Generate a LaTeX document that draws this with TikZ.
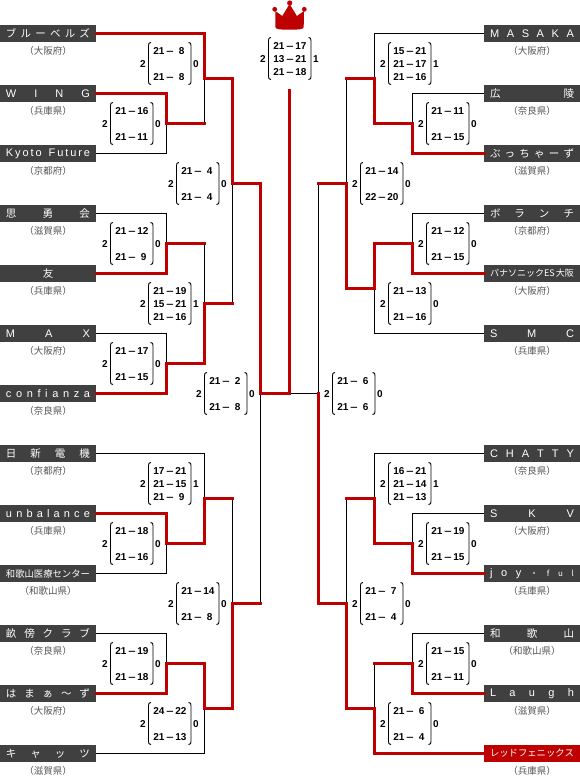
\documentclass[tikz,border=0pt]{standalone}
\usepackage{fontspec}
\setmainfont{Liberation Sans}
\newfontfamily\cjk{Noto Sans CJK JP}
\newlength\pxu \pxu=0.75pt
\definecolor{winred}{HTML}{BE0000}
\definecolor{boxgray}{HTML}{404040}
\definecolor{prefgray}{HTML}{555555}
\newcommand\fs[1]{\fontsize{#1\pxu}{#1\pxu}\selectfont}
\makeatletter
\newcommand\spreadtxt[1]{\hbox to 84\pxu{\@tfor\nxt:=#1\do{\nxt\hfill}\unskip}}
\makeatother
\newcommand\jp[1]{\cjk\fs{10.5}\spreadtxt{#1}}
\newcommand\la[1]{\fs{11}\spreadtxt{#1}}
\newcommand\dashx{\raisebox{0pt}{\scalebox{1.3}[1]{–}}}
% one row of a score: left number, dash, right number
\newcommand\scr[2]{\hbox to 34\pxu{\hbox to 11.5\pxu{#1\hss}\hbox to 10.5\pxu{\hss\dashx\hss}\setbox0\hbox{#2}\ifdim\wd0<8\pxu\kern3.5\pxu\fi\box0\hss}}
\tikzset{
  team/.style={fill=boxgray,text=white,minimum width=96\pxu,minimum height=17\pxu,inner sep=0pt,outer sep=0pt,anchor=center},
  champ/.style={team,fill=winred},
  pref/.style={text=prefgray,inner sep=0pt,font=\cjk\fs{9.5}},
  win/.style={draw=winred,line width=3\pxu,line cap=rect,line join=miter},
  lose/.style={draw=black,line width=1\pxu},
  paren/.style={draw=black,line width=0.9\pxu},
  num/.style={inner sep=0pt,anchor=base west,font=\bfseries\fs{10},text=black},
  numc/.style={inner sep=0pt,anchor=base,font=\bfseries\fs{10},text=black},
}
% name, x of left number, y centre, right number, rows
\newcommand\parens[3]{%
  \draw[paren] (#2+8,#3-21) .. controls (#2+6,#3-21) and (#2+5.5,#3-20) .. (#2+5.5,#3-18) -- (#2+5.5,#3+18) .. controls (#2+5.5,#3+20) and (#2+6,#3+21) .. (#2+8,#3+21);
  \draw[paren] (#2+45.5,#3-21) .. controls (#2+47.5,#3-21) and (#2+48,#3-20) .. (#2+48,#3-18) -- (#2+48,#3+18) .. controls (#2+48,#3+20) and (#2+47.5,#3+21) .. (#2+45.5,#3+21);
  \node[numc] (#1w) at (#2,#3+3.6) {2};
}
\newcommand\mtwo[6]{\parens{#1}{#2}{#3}
  \node[numc] (#1l) at (#2+53,#3+3.6) {#4};
  \node[num] (#1a) at (#2+10,#3-9.4) {#5};
  \node[num] (#1b) at (#2+10,#3+16.6) {#6};}
\newcommand\mthree[7]{\parens{#1}{#2}{#3}
  \node[numc] (#1l) at (#2+53,#3+3.6) {#4};
  \node[num] (#1a) at (#2+10,#3-9.4) {#5};
  \node[num] (#1b) at (#2+10,#3+3.6) {#6};
  \node[num] (#1c) at (#2+10,#3+16.6) {#7};}
\begin{document}
\begin{tikzpicture}[x=0.75pt,y=-0.75pt]
\useasboundingbox (0,0) rectangle (580,776);
% teams, left
\node[team] (l1) at (48,33.5) {\jp{ブルーベルズ}};
\node[team] (l2) at (48,93.5) {\la{WING}};
\node[team] (l3) at (48,153.5) {\fs{11}\spreadtxt{Kyoto{\ }Future}};
\node[team] (l4) at (48,213.5) {\jp{思勇会}};
\node[team] (l5) at (48,273.5) {\cjk\fs{10.5}友};
\node[team] (l6) at (48,333.5) {\la{MAX}};
\node[team] (l7) at (48,393.5) {\la{confianza}};
\node[team] (l8) at (48,453.5) {\jp{日新電機}};
\node[team] (l9) at (48,513.5) {\la{unbalance}};
\node[team] (l10) at (48,573.5) {\cjk\fs{9.33}\spreadtxt{和歌山医療センター}};
\node[team] (l11) at (48,633.5) {\jp{畝傍クラブ}};
\node[team] (l12) at (48,693.5) {\jp{はまぁ〜ず}};
\node[team] (l13) at (48,753.5) {\jp{キャッツ}};
% teams, right
\node[team] (r1) at (532,33.5) {\la{MASAKA}};
\node[team] (r2) at (532,93.5) {\jp{広陵}};
\node[team] (r3) at (532,153.5) {\jp{ぶっちゃーず}};
\node[team] (r4) at (532,213.5) {\jp{ボランチ}};
\node[team] (r5) at (532,273.5) {\cjk\fs{9}\hbox to 84\pxu{\hss パナソニックES\hfill 大阪\hss}};
\node[team] (r6) at (532,333.5) {\la{SMC}};
\node[team] (r7) at (532,453.5) {\la{CHATTY}};
\node[team] (r8) at (532,513.5) {\la{SKV}};
\node[team] (r9) at (532,573.5) {\fs{11}\spreadtxt{joy{\cjk\fs{8}・}ful}};
\node[team] (r10) at (532,633.5) {\jp{和歌山}};
\node[team] (r11) at (532,693.5) {\la{Laugh}};
\node[champ] (r12) at (532,753.5) {\cjk\fs{9.33}\spreadtxt{レッドフェニックス}};
% prefectures
\node[pref] (pl1) at (48,50.7) {（大阪府）};
\node[pref] (pl2) at (48,110.7) {（兵庫県）};
\node[pref] (pl3) at (48,170.7) {（京都府）};
\node[pref] (pl4) at (48,230.7) {（滋賀県）};
\node[pref] (pl5) at (48,290.7) {（兵庫県）};
\node[pref] (pl6) at (48,350.7) {（大阪府）};
\node[pref] (pl7) at (48,410.7) {（奈良県）};
\node[pref] (pl8) at (48,470.7) {（京都府）};
\node[pref] (pl9) at (48,530.7) {（兵庫県）};
\node[pref] (pl10) at (48,590.7) {（和歌山県）};
\node[pref] (pl11) at (48,650.7) {（奈良県）};
\node[pref] (pl12) at (48,710.7) {（大阪府）};
\node[pref] (pl13) at (48,770.7) {（滋賀県）};
\node[pref] (pr1) at (532,50.7) {（大阪府）};
\node[pref] (pr2) at (532,110.7) {（奈良県）};
\node[pref] (pr3) at (532,170.7) {（滋賀県）};
\node[pref] (pr4) at (532,230.7) {（京都府）};
\node[pref] (pr5) at (532,290.7) {（大阪府）};
\node[pref] (pr6) at (532,350.7) {（兵庫県）};
\node[pref] (pr7) at (532,470.7) {（奈良県）};
\node[pref] (pr8) at (532,530.7) {（大阪府）};
\node[pref] (pr9) at (532,590.7) {（兵庫県）};
\node[pref] (pr10) at (532,650.7) {（和歌山県）};
\node[pref] (pr11) at (532,710.7) {（滋賀県）};
\node[pref] (pr12) at (532,770.7) {（兵庫県）};
% junctions, left
\coordinate (a1) at (166.5,123.5); \coordinate (a1e) at (204.5,123.5);
\coordinate (a2) at (204.5,78.5);  \coordinate (a2e) at (232.5,78.5);
\coordinate (a3) at (232.5,183.5); \coordinate (a3e) at (260.5,183.5);
\coordinate (a4) at (166.5,243.5); \coordinate (a4e) at (204.5,243.5);
\coordinate (a5) at (166.5,363.5); \coordinate (a5e) at (204.5,363.5);
\coordinate (a6) at (204.5,303.5); \coordinate (a6e) at (232.5,303.5);
\coordinate (fl) at (260.5,393.5); \coordinate (fc) at (289.5,393.5);
\coordinate (top) at (289.5,90);
\coordinate (b1) at (166.5,543.5); \coordinate (b1e) at (204.5,543.5);
\coordinate (b2) at (204.5,498.5); \coordinate (b2e) at (232.5,498.5);
\coordinate (b3) at (166.5,663.5); \coordinate (b3e) at (204.5,663.5);
\coordinate (b4) at (204.5,708.5); \coordinate (b4e) at (232.5,708.5);
\coordinate (b5) at (232.5,603.5); \coordinate (b5e) at (260.5,603.5);
% junctions, right
\coordinate (c1) at (412.5,123.5); \coordinate (c1e) at (374.5,123.5);
\coordinate (c2) at (374.5,78.5);  \coordinate (c2e) at (346.5,78.5);
\coordinate (c3) at (412.5,243.5); \coordinate (c3e) at (374.5,243.5);
\coordinate (c4) at (374.5,288.5); \coordinate (c4e) at (346.5,288.5);
\coordinate (c5) at (346.5,183.5); \coordinate (c5e) at (318.5,183.5);
\coordinate (fr) at (318.5,393.5);
\coordinate (d1) at (412.5,543.5); \coordinate (d1e) at (374.5,543.5);
\coordinate (d2) at (374.5,498.5); \coordinate (d2e) at (346.5,498.5);
\coordinate (d3) at (412.5,663.5); \coordinate (d3e) at (374.5,663.5);
\coordinate (d4) at (374.5,708.5); \coordinate (d4e) at (346.5,708.5);
\coordinate (d5) at (346.5,603.5); \coordinate (d5e) at (318.5,603.5);
% losers' lines
\draw[lose] (l3.east) -| (a1);
\draw[lose] (a1e) -- (a2);
\draw[lose] (l4.east) -| (a4);
\draw[lose] (l6.east) -| (a5);
\draw[lose] (a4e) -- (a6);
\draw[lose] (a3) -- (a6e);
\draw[lose] (l8.east) -| (b2);
\draw[lose] (l10.east) -| (b1);
\draw[lose] (l11.east) -| (b3);
\draw[lose] (l13.east) -| (b4);
\draw[lose] (b2e) -- (b5);
\draw[lose] (fl) -- (b5e);
\draw[lose] (fc) -- (fr);
\draw[lose] (r1.west) -| (c2);
\draw[lose] (r2.west) -| (c1);
\draw[lose] (r4.west) -| (c3);
\draw[lose] (r6.west) -| (c4);
\draw[lose] (c2e) -- (c5);
\draw[lose] (c5e) -- (fr);
\draw[lose] (r7.west) -| (d2);
\draw[lose] (r8.west) -| (d1);
\draw[lose] (r10.west) -| (d3);
\draw[lose] (d2e) -- (d5);
\draw[lose] (d3e) -- (d4);
% winners' lines
\draw[win] (l2.east) -| (a1) -- (a1e);
\draw[win] (l1.east) -| (a2) -- (a2e) -- (a3) -- (a3e) -- (fl) -- (fc) -- (top);
\draw[win] (l5.east) -| (a4) -- (a4e);
\draw[win] (l7.east) -| (a5) -- (a5e) -- (a6) -- (a6e);
\draw[win] (l9.east) -| (b1) -- (b1e) -- (b2) -- (b2e);
\draw[win] (l12.east) -| (b3) -- (b3e) -- (b4) -- (b4e) -- (b5) -- (b5e);
\draw[win] (r3.west) -| (c1) -- (c1e) -- (c2) -- (c2e);
\draw[win] (r5.west) -| (c3) -- (c3e) -- (c4) -- (c4e) -- (c5) -- (c5e);
\draw[win] (r9.west) -| (d1) -- (d1e) -- (d2) -- (d2e);
\draw[win] (r11.west) -| (d3) -- (d3e);
\draw[win] (r12.west) -| (d4) -- (d4e) -- (d5) -- (d5e) -- (fr);
% scores, left
\mtwo{m1}{143}{63.5}{0}{\scr{21}{8}}{\scr{21}{8}}
\mtwo{m2}{105}{123.5}{0}{\scr{21}{16}}{\scr{21}{11}}
\mtwo{m3}{171}{183.5}{0}{\scr{21}{4}}{\scr{21}{4}}
\mtwo{m4}{105}{243.5}{0}{\scr{21}{12}}{\scr{21}{9}}
\mthree{m5}{143}{303.5}{1}{\scr{21}{19}}{\scr{15}{21}}{\scr{21}{16}}
\mtwo{m6}{105}{363.5}{0}{\scr{21}{17}}{\scr{21}{15}}
\mtwo{m7}{199}{393.5}{0}{\scr{21}{2}}{\scr{21}{8}}
\mthree{m8}{143}{483.5}{1}{\scr{17}{21}}{\scr{21}{15}}{\scr{21}{9}}
\mtwo{m9}{105}{543.5}{0}{\scr{21}{18}}{\scr{21}{16}}
\mtwo{m10}{171}{603.5}{0}{\scr{21}{14}}{\scr{21}{8}}
\mtwo{m11}{105}{663.5}{0}{\scr{21}{19}}{\scr{21}{18}}
\mtwo{m12}{143}{723.5}{0}{\scr{24}{22}}{\scr{21}{13}}
% final
\mthree{m13}{263}{58.5}{1}{\scr{21}{17}}{\scr{13}{21}}{\scr{21}{18}}
% scores, right
\mthree{n1}{383}{63.5}{1}{\scr{15}{21}}{\scr{21}{17}}{\scr{21}{16}}
\mtwo{n2}{421}{123.5}{0}{\scr{21}{11}}{\scr{21}{15}}
\mtwo{n3}{355}{183.5}{0}{\scr{21}{14}}{\scr{22}{20}}
\mtwo{n4}{421}{243.5}{0}{\scr{21}{12}}{\scr{21}{15}}
\mtwo{n5}{383}{303.5}{0}{\scr{21}{13}}{\scr{21}{16}}
\mtwo{n6}{327}{393.5}{0}{\scr{21}{6}}{\scr{21}{6}}
\mthree{n7}{383}{483.5}{1}{\scr{16}{21}}{\scr{21}{14}}{\scr{21}{13}}
\mtwo{n8}{421}{543.5}{0}{\scr{21}{19}}{\scr{21}{15}}
\mtwo{n9}{355}{603.5}{0}{\scr{21}{7}}{\scr{21}{4}}
\mtwo{n10}{421}{663.5}{0}{\scr{21}{15}}{\scr{21}{11}}
\mtwo{n11}{383}{723.5}{0}{\scr{21}{6}}{\scr{21}{4}}
% crown
\fill[winred] (275.3,11) -- (282.3,16) -- (289.6,4) -- (296.9,16) -- (304,11) -- (303.7,27) .. controls (303.5,29.5) and (298,29.7) .. (289.5,29.7) .. controls (281,29.7) and (275.5,29.5) .. (275.3,27) -- cycle;
\fill[winred] (274.7,9.3) circle (2.4);
\fill[winred] (289.7,3) circle (2.6);
\fill[winred] (304.3,9.3) circle (2.4);
\end{tikzpicture}
\end{document}
